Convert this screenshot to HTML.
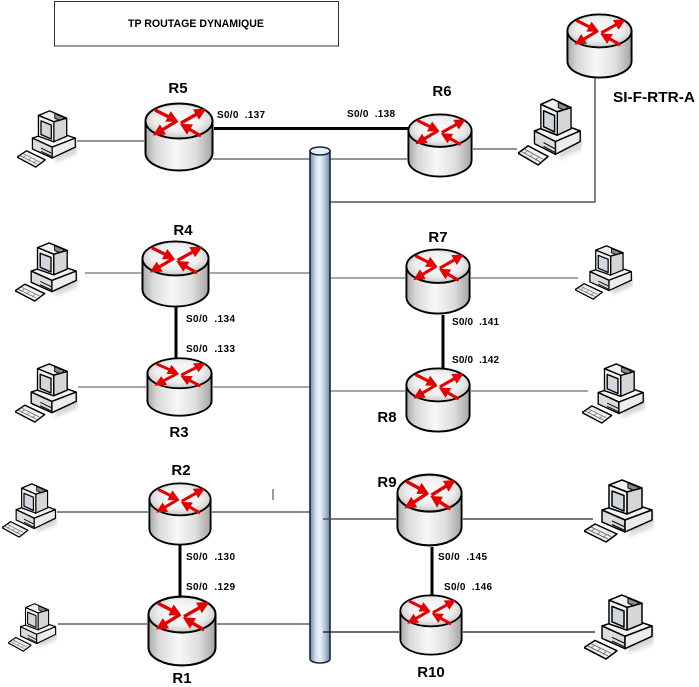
<!DOCTYPE html>
<html><head><meta charset="utf-8"><style>
html,body{margin:0;padding:0;background:#fff;width:699px;height:687px;overflow:hidden}
svg{display:block}
text{font-family:"Liberation Sans",Arial,sans-serif;font-weight:bold;fill:#000}
</style></head><body>
<svg width="699" height="687" viewBox="0 0 699 687" xmlns="http://www.w3.org/2000/svg">
<defs>
<linearGradient id="side" x1="0" y1="0" x2="1" y2="0">
<stop offset="0" stop-color="#a8a8a8"/><stop offset="0.15" stop-color="#d8d8d8"/><stop offset="0.45" stop-color="#f8f8f8"/><stop offset="0.75" stop-color="#dedede"/><stop offset="1" stop-color="#a4a4a4"/>
</linearGradient>
<radialGradient id="topg" cx="0.5" cy="0.45" r="0.6">
<stop offset="0" stop-color="#ffffff"/><stop offset="0.6" stop-color="#eeeeee"/><stop offset="1" stop-color="#bcbcbc"/>
</radialGradient>
<linearGradient id="bus" x1="0" y1="0" x2="1" y2="0">
<stop offset="0" stop-color="#6d8db0"/><stop offset="0.3" stop-color="#d6e2ee"/><stop offset="0.5" stop-color="#eef3f8"/><stop offset="0.8" stop-color="#a5bbd3"/><stop offset="1" stop-color="#6a88aa"/>
</linearGradient>
<filter id="blur" x="-20%" y="-20%" width="140%" height="140%"><feGaussianBlur stdDeviation="2"/></filter>
<marker id="ah" viewBox="0 0 10 10" refX="1" refY="5" markerWidth="3.6" markerHeight="3.6" orient="auto" markerUnits="strokeWidth">
<path d="M0,0 L10,5 L0,10 z" fill="#e40000"/>
</marker>
<symbol id="rt" viewBox="0 0 70 70" preserveAspectRatio="none">
<path d="M1.5,19 L1.5,51 A33.5,17.5 0 0 0 68.5,51 L68.5,19 Z" fill="url(#side)" stroke="#000" stroke-width="2"/>
<ellipse cx="35" cy="19" rx="33.5" ry="17.5" fill="url(#topg)" stroke="#000" stroke-width="2"/>
<g stroke="#e40000" stroke-width="3.3" fill="none" marker-end="url(#ah)">
<line x1="11" y1="8" x2="25" y2="15"/>
<line x1="37" y1="21" x2="53" y2="12"/>
<line x1="33" y1="19" x2="18" y2="28"/>
<line x1="57" y1="34" x2="45" y2="27"/>
</g>
</symbol>
<symbol id="pc" viewBox="4 2 70 64" preserveAspectRatio="none">
<polygon points="50,30 76,36 74,50 48,60" fill="#cfcfcf" filter="url(#blur)" opacity="0.8"/>
<g stroke="#000" stroke-width="1.5" stroke-linejoin="round">
<polygon points="22,33 47,25 72,33 45,43" fill="#f4f4f4"/>
<polygon points="22,33 45,43 45,55 22,45" fill="#dcdcdc"/>
<polygon points="45,43 72,33 72,43 45,55" fill="#ececec"/>
<line x1="32" y1="44" x2="44" y2="49.5" stroke-width="1"/>
<line x1="32" y1="47.5" x2="44" y2="53" stroke-width="1"/>
<polygon points="29,8 42,3 62,11 47,15" fill="#f0f0f0"/>
<polygon points="48,6 58,10 58,15 48,11" fill="#8a8a8a" stroke-width="1"/>
<polygon points="47,15 62,11 62,31 47,37" fill="#d6d6d6"/>
<polygon points="29,8 47,15 47,37 29,31" fill="#f2f2f2"/>
<polygon points="32,14 44,18.5 44,34 32,29" fill="#cfd6de"/>
<polygon points="4,54 15,47 37,57 26,65" fill="#efefef"/>
<line x1="11" y1="50" x2="31" y2="59.5" stroke-width="0.7" stroke="#555"/>
<line x1="7.5" y1="52.3" x2="28" y2="62" stroke-width="0.7" stroke="#555"/>
<line x1="14" y1="52" x2="11" y2="54.5" stroke-width="0.6" stroke="#555"/>
<line x1="20" y1="55" x2="17" y2="57.5" stroke-width="0.6" stroke="#555"/>
<line x1="26" y1="58" x2="23" y2="60.5" stroke-width="0.6" stroke="#555"/>
</g>
</symbol>
</defs>

<!-- title -->
<rect x="54.5" y="1.5" width="284" height="44.5" fill="none" stroke="#333" stroke-width="1"/>
<text x="128" y="27" font-size="11" textLength="136" lengthAdjust="spacingAndGlyphs">TP ROUTAGE DYNAMIQUE</text>

<!-- lines -->
<g fill="none">
<path d="M77,141 H144" stroke="#555" stroke-width="1.2"/>
<path d="M214,128.5 H408" stroke="#000" stroke-width="3"/>
<path d="M213,159 H407" stroke="#555" stroke-width="1.3"/>
<path d="M473,149 H517" stroke="#555" stroke-width="1.2"/>
<path d="M595,78 V202 H330" stroke="#333" stroke-width="1.2"/>
<path d="M85,273 H141 M210,273 H310" stroke="#4a4a66" stroke-width="1.1"/>
<path d="M330,278 H405 M471,278 H578" stroke="#4a4a66" stroke-width="1.1"/>
<path d="M78,387 H146 M213,387 H310" stroke="#4a4a66" stroke-width="1.1"/>
<path d="M330,391 H405 M471,391 H588" stroke="#4a4a66" stroke-width="1.1"/>
<path d="M176,307 V358" stroke="#000" stroke-width="3"/>
<path d="M443,315 V368" stroke="#000" stroke-width="3"/>
<path d="M57,512 H148 M212,512 H310" stroke="#888" stroke-width="2"/>
<path d="M273,489 V500" stroke="#333" stroke-width="1"/>
<path d="M463,519 H593" stroke="#777" stroke-width="2"/>
<path d="M58,624 H147 M217,624 H310" stroke="#888" stroke-width="2"/>
<path d="M463,632 H595" stroke="#111" stroke-width="1.2"/>
<path d="M180,545 V596" stroke="#000" stroke-width="3"/>
<path d="M432,547 V595" stroke="#000" stroke-width="3"/>
</g>

<!-- bus -->
<path d="M310,151 L310,659 A10,4 0 0 0 330,659 L330,151 Z" fill="url(#bus)" stroke="#1a2535" stroke-width="1.6"/>
<ellipse cx="320" cy="151" rx="10" ry="4" fill="#e9eff6" stroke="#1a2535" stroke-width="1.6"/>
<path d="M323,519 H396" stroke="#555" stroke-width="1.5"/>
<path d="M323,632 H399" stroke="#111" stroke-width="1.2"/>

<!-- routers -->
<use href="#rt" x="144" y="102" width="70" height="70"/>
<use href="#rt" x="407" y="113" width="66" height="65"/>
<use href="#rt" x="566" y="13" width="67" height="66"/>
<use href="#rt" x="141" y="240" width="69" height="68"/>
<use href="#rt" x="146" y="357" width="67" height="60"/>
<use href="#rt" x="405" y="248" width="66" height="67"/>
<use href="#rt" x="405" y="367" width="66" height="66"/>
<use href="#rt" x="148" y="482" width="64" height="64"/>
<use href="#rt" x="147" y="595" width="70" height="72"/>
<use href="#rt" x="396" y="473" width="67" height="74"/>
<use href="#rt" x="399" y="594" width="64" height="62"/>

<!-- PCs -->
<use href="#pc" x="17" y="110" width="60" height="58"/>
<use href="#pc" x="518" y="98" width="64" height="68"/>
<use href="#pc" x="15" y="242" width="63" height="60"/>
<use href="#pc" x="15" y="363" width="63" height="60"/>
<use href="#pc" x="575" y="245" width="58" height="55"/>
<use href="#pc" x="582" y="363" width="63" height="61"/>
<use href="#pc" x="2" y="483" width="55" height="55"/>
<use href="#pc" x="8" y="603" width="49" height="49"/>
<use href="#pc" x="584" y="479" width="70" height="64"/>
<use href="#pc" x="584" y="594" width="70" height="66"/>

<!-- router labels -->
<g font-size="15" text-anchor="middle">
<text x="178" y="93">R5</text>
<text x="442" y="96">R6</text>
<text x="183" y="235">R4</text>
<text x="179" y="437">R3</text>
<text x="438" y="242">R7</text>
<text x="387" y="422">R8</text>
<text x="181" y="475">R2</text>
<text x="182" y="683">R1</text>
<text x="387" y="487">R9</text>
<text x="431" y="677">R10</text>
</g>
<text x="613" y="102" font-size="15" textLength="82" lengthAdjust="spacingAndGlyphs">SI-F-RTR-A</text>

<!-- serial labels -->
<g font-size="10">
<text x="217" y="118" textLength="48" xml:space="preserve">S0/0  .137</text>
<text x="347" y="117" textLength="48" xml:space="preserve">S0/0  .138</text>
<text x="186" y="322" textLength="49" xml:space="preserve">S0/0  .134</text>
<text x="186" y="352" textLength="49" xml:space="preserve">S0/0  .133</text>
<text x="452" y="325" textLength="47" xml:space="preserve">S0/0  .141</text>
<text x="452" y="363" textLength="47" xml:space="preserve">S0/0  .142</text>
<text x="186" y="560" textLength="49" xml:space="preserve">S0/0  .130</text>
<text x="186" y="590" textLength="49" xml:space="preserve">S0/0  .129</text>
<text x="438" y="560" textLength="49" xml:space="preserve">S0/0  .145</text>
<text x="444" y="590" textLength="48" xml:space="preserve">S0/0  .146</text>
</g>
</svg>
</body></html>
